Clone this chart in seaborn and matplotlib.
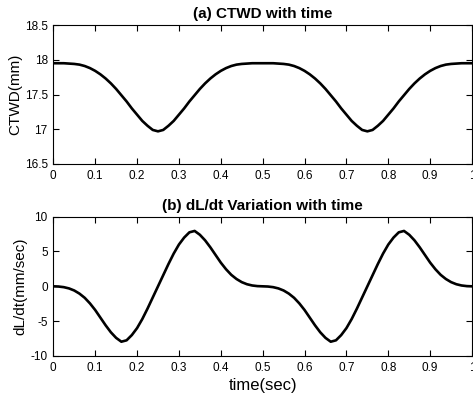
import numpy as np
import pandas as pd
import seaborn as sns
import matplotlib.pyplot as plt
from matplotlib.ticker import FuncFormatter

# time grid (sec), step 0.0125
time_sec = [round(i * 0.0125, 4) for i in range(81)]

# (a) CTWD (mm)
ctwd_mm = [
    17.95, 17.95, 17.95, 17.945, 17.94, 17.93, 17.91, 17.88, 17.84, 17.79,
    17.73, 17.66, 17.58, 17.49, 17.40, 17.30, 17.21, 17.12, 17.05, 16.99,
    16.97, 16.99, 17.05, 17.12, 17.21, 17.30, 17.40, 17.49, 17.58, 17.66,
    17.73, 17.79, 17.84, 17.88, 17.91, 17.93, 17.94, 17.945, 17.95, 17.95,
    17.95, 17.95, 17.95, 17.945, 17.94, 17.93, 17.91, 17.88, 17.84, 17.79,
    17.73, 17.66, 17.58, 17.49, 17.40, 17.30, 17.21, 17.12, 17.05, 16.99,
    16.97, 16.99, 17.05, 17.12, 17.21, 17.30, 17.40, 17.49, 17.58, 17.66,
    17.73, 17.79, 17.84, 17.88, 17.91, 17.93, 17.94, 17.945, 17.95, 17.95,
    17.95,
]

# (b) dL/dt (mm/sec)
dldt = [
    0.0, -0.03, -0.12, -0.3, -0.6, -1.05, -1.65, -2.45, -3.4, -4.5,
    -5.6, -6.6, -7.4, -7.95, -7.75, -7.0, -6.0, -4.7, -3.2, -1.6,
    0.0, 1.6, 3.2, 4.7, 6.0, 7.0, 7.75, 7.95, 7.4, 6.6,
    5.6, 4.5, 3.4, 2.45, 1.65, 1.05, 0.6, 0.3, 0.12, 0.03,
    0.0, -0.03, -0.12, -0.3, -0.6, -1.05, -1.65, -2.45, -3.4, -4.5,
    -5.6, -6.6, -7.4, -7.95, -7.75, -7.0, -6.0, -4.7, -3.2, -1.6,
    0.0, 1.6, 3.2, 4.7, 6.0, 7.0, 7.75, 7.95, 7.4, 6.6,
    5.6, 4.5, 3.4, 2.45, 1.65, 1.05, 0.6, 0.3, 0.12, 0.03,
    0.0,
]

x_ticks = [0, 0.1, 0.2, 0.3, 0.4, 0.5, 0.6, 0.7, 0.8, 0.9, 1]
ctwd_ticks = [16.5, 17, 17.5, 18, 18.5]
dldt_ticks = [-10, -5, 0, 5, 10]

df = pd.DataFrame({'time': time_sec, 'ctwd': ctwd_mm, 'dldt': dldt})

sns.set_theme(style='ticks')
plt.rcParams['font.family'] = ['Liberation Sans', 'DejaVu Sans']
plt.rcParams['text.color'] = 'black'
plt.rcParams['axes.labelcolor'] = 'black'

fig = plt.figure(figsize=(4.73, 3.99), dpi=100)
ax1 = fig.add_axes([0.1127, 0.589, 0.8853, 0.3483])
ax2 = fig.add_axes([0.1127, 0.1078, 0.8853, 0.3492])

fmt = FuncFormatter(lambda v, p: '%g' % v)

panels = [
    (ax1, 'ctwd', '(a) CTWD with time', 'CTWD(mm)', ctwd_ticks),
    (ax2, 'dldt', '(b) dL/dt Variation with time', 'dL/dt(mm/sec)', dldt_ticks),
]
for ax, col, title, ylab, yt in panels:
    sns.lineplot(data=df, x='time', y=col, ax=ax, color='black', linewidth=1.9)
    ax.set_xlim(0, 1)
    ax.set_ylim(yt[0], yt[-1])
    ax.set_xticks(x_ticks)
    ax.set_yticks(yt)
    ax.xaxis.set_major_formatter(fmt)
    ax.yaxis.set_major_formatter(fmt)
    ax.set_title(title, fontsize=11, fontweight='bold', pad=5, color='black')
    ax.set_ylabel(ylab, fontsize=11, labelpad=2, color='black')
    ax.set_xlabel('')
    ax.tick_params(direction='in', length=4, width=0.8, top=True, right=True,
                   labelsize=8.5, pad=4, color='black', labelcolor='black')
    for s in ax.spines.values():
        s.set_visible(True)
        s.set_color('black')
        s.set_linewidth(0.8)

ax2.set_xlabel('time(sec)', fontsize=12, labelpad=3, color='black')

fig.savefig('out.png', dpi=100)
